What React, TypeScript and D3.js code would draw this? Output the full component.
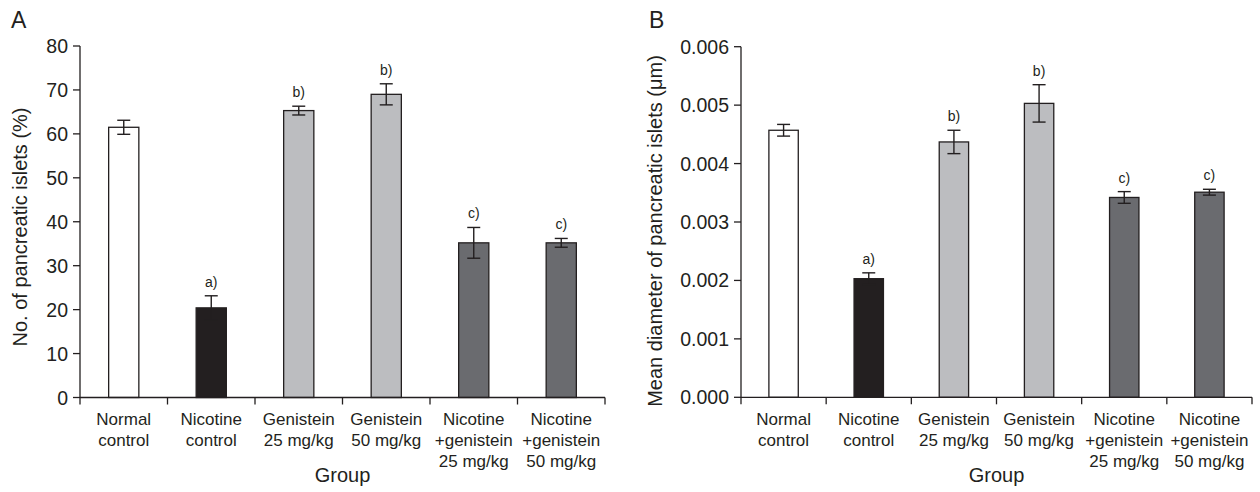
import React from "react";
import * as d3 from "d3";

const categories = [
  ["Normal", "control"],
  ["Nicotine", "control"],
  ["Genistein", "25 mg/kg"],
  ["Genistein", "50 mg/kg"],
  ["Nicotine", "+genistein", "25 mg/kg"],
  ["Nicotine", "+genistein", "50 mg/kg"],
];
const catKeys = ["nc", "nic", "g25", "g50", "ng25", "ng50"];
const barColors = ["#ffffff", "#231f20", "#bcbdc0", "#bcbdc0", "#6a6b6f", "#6a6b6f"];
const sigLabels = ["", "a)", "b)", "b)", "c)", "c)"];

const countMeans = [61.5, 20.4, 65.3, 69.0, 35.2, 35.2];
const countErrors = [1.6, 2.75, 1.0, 2.4, 3.5, 1.0];
const countTicks = [0, 10, 20, 30, 40, 50, 60, 70, 80];

const diamMeans = [0.00457, 0.00203, 0.00437, 0.00503, 0.00342, 0.00351];
const diamErrors = [0.0001, 0.0001, 0.0002, 0.00032, 0.0001, 0.00005];
const diamTicks = [0, 0.001, 0.002, 0.003, 0.004, 0.005, 0.006];

const INK = "#231f20";
const FONT = "'Liberation Sans', Arial, Helvetica, sans-serif";

type PanelProps = {
  letter: string;
  left: number;
  right: number;
  top: number;
  bottom: number;
  yMax: number;
  ticks: number[];
  fmt: (v: number) => string;
  means: number[];
  errors: number[];
  yTitle: string;
  yTitleX: number;
  yTitleY: number;
  letterX: number;
};

function Panel(p: PanelProps) {
  const x = d3.scaleBand<string>().domain(catKeys).range([p.left, p.right]).padding(0);
  const y = d3.scaleLinear().domain([0, p.yMax]).range([p.bottom, p.top]);
  const bw = x.bandwidth();
  const barW = bw * 0.345;
  const capW = 6.5;
  const boundaries = [...catKeys.map((k) => x(k) as number), p.right];
  return (
    <g fontFamily={FONT}>
      <text x={p.letterX} y={28} fontSize={23} fill={INK}>{p.letter}</text>
      {/* bars */}
      {catKeys.map((k, i) => {
        const cx = (x(k) as number) + bw / 2;
        return (
          <rect
            key={k}
            x={cx - barW / 2}
            y={y(p.means[i])}
            width={barW}
            height={p.bottom - y(p.means[i])}
            fill={barColors[i]}
            stroke={INK}
            strokeWidth={1.3}
          />
        );
      })}
      {/* error bars */}
      {catKeys.map((k, i) => {
        const cx = (x(k) as number) + bw / 2;
        const hi = y(p.means[i] + p.errors[i]);
        const lo = y(p.means[i] - p.errors[i]);
        const col = i === 1 ? INK : INK;
        return (
          <g key={k} stroke={col} strokeWidth={1.4}>
            <line x1={cx} x2={cx} y1={hi} y2={lo} />
            <line x1={cx - capW} x2={cx + capW} y1={hi} y2={hi} />
            <line x1={cx - capW} x2={cx + capW} y1={lo} y2={lo} />
          </g>
        );
      })}
      {/* significance letters */}
      {catKeys.map((k, i) => {
        const cx = (x(k) as number) + bw / 2;
        const hi = y(p.means[i] + p.errors[i]);
        return sigLabels[i] ? (
          <text key={k} x={cx} y={hi - 9} fontSize={14} textAnchor="middle" fill={INK}>
            {sigLabels[i]}
          </text>
        ) : null;
      })}
      {/* y axis */}
      <line x1={p.left} x2={p.left} y1={p.top} y2={p.bottom} stroke={INK} strokeWidth={1.3} />
      {p.ticks.map((t) => (
        <g key={t}>
          <line x1={p.left - 7} x2={p.left} y1={y(t)} y2={y(t)} stroke={INK} strokeWidth={1.3} />
          <text x={p.left - 12} y={y(t)} dy="0.36em" fontSize={19.5} textAnchor="end" fill={INK}>
            {p.fmt(t)}
          </text>
        </g>
      ))}
      {/* x axis */}
      <line x1={p.left} x2={p.right} y1={p.bottom} y2={p.bottom} stroke={INK} strokeWidth={1.3} />
      {boundaries.map((b, i) => (
        <line key={i} x1={b} x2={b} y1={p.bottom} y2={p.bottom + 7} stroke={INK} strokeWidth={1.3} />
      ))}
      {catKeys.map((k, i) => {
        const cx = (x(k) as number) + bw / 2;
        return (
          <text key={k} x={cx} fontSize={17} textAnchor="middle" fill={INK}>
            {categories[i].map((line, j) => (
              <tspan key={j} x={cx} y={425 + j * 21}>{line}</tspan>
            ))}
          </text>
        );
      })}
      <text x={(p.left + p.right) / 2} y={482} fontSize={20} textAnchor="middle" fill={INK}>Group</text>
      <text
        transform={`translate(${p.yTitleX},${p.yTitleY}) rotate(-90)`}
        fontSize={20}
        textAnchor="middle"
        dy="0.35em"
        fill={INK}
      >
        {p.yTitle}
      </text>
    </g>
  );
}

export default function App() {
  return (
    <svg
      width={1260}
      height={492}
      style={{ position: "absolute", left: 0, top: 0, background: "#fff" }}
    >
      <rect width={1260} height={492} fill="#fff" />
      <Panel
        letter="A"
        left={80}
        right={605}
        top={46}
        bottom={397.5}
        yMax={80}
        ticks={countTicks}
        fmt={(v) => String(v)}
        means={countMeans}
        errors={countErrors}
        yTitle="No. of pancreatic islets (%)"
        yTitleX={20}
        yTitleY={227}
        letterX={11}
      />
      <Panel
        letter="B"
        left={741}
        right={1252}
        top={46.7}
        bottom={397.3}
        yMax={0.006}
        ticks={diamTicks}
        fmt={(v) => d3.format(".3f")(v)}
        means={diamMeans}
        errors={diamErrors}
        yTitle="Mean diameter of pancreatic islets (μm)"
        yTitleX={655}
        yTitleY={231}
        letterX={649}
      />
    </svg>
  );
}
